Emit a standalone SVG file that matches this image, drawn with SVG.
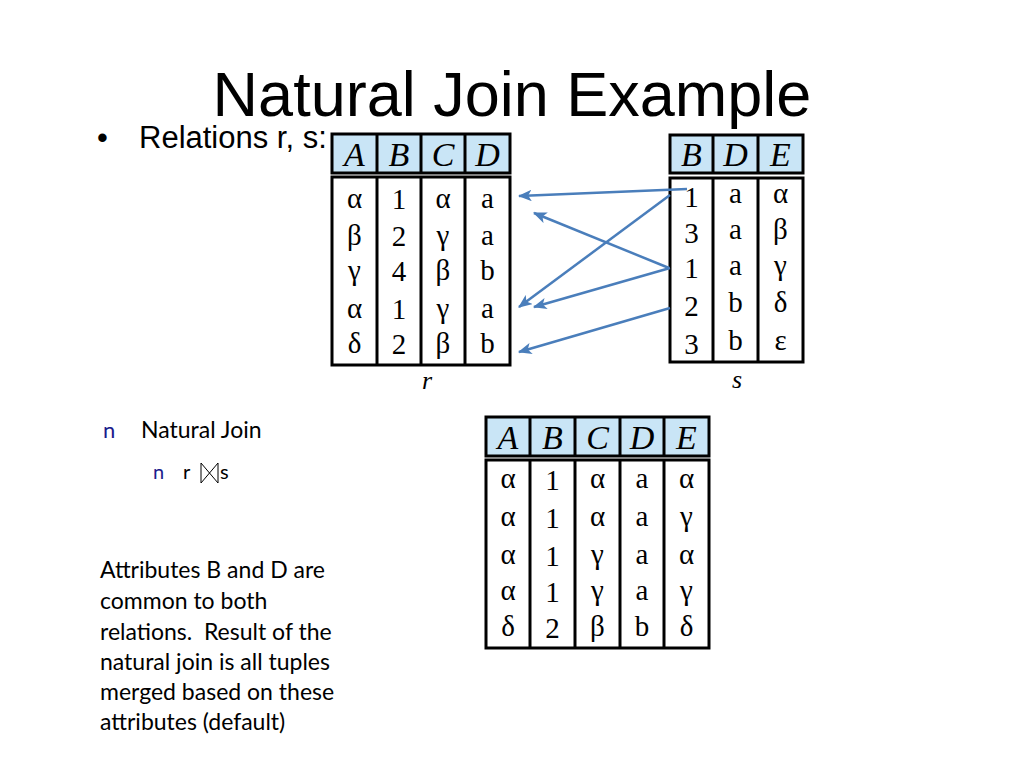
<svg xmlns="http://www.w3.org/2000/svg" width="1024" height="768" viewBox="0 0 1024 768">
<style>
.title{font-family:"Liberation Sans",Arial,sans-serif;font-size:63px;fill:#000}
.bul{font-family:"Liberation Sans",Arial,sans-serif;font-size:31px;fill:#000}
.cal{font-family:Lato,"Open Sans",sans-serif;fill:#000;white-space:pre}
.nb{font-family:Lato,"Open Sans",sans-serif;fill:#1c1c8c}
.hd{fill:#c9e5f6;stroke:#000;stroke-width:3}
.bd{fill:#fff;stroke:#000;stroke-width:3}
.ln{stroke:#000;stroke-width:3}
.ht{font-family:"Liberation Serif","DejaVu Serif",serif;font-style:italic;font-size:34px;text-anchor:middle;fill:#000}
.ct{font-family:"Liberation Serif","DejaVu Serif",serif;font-size:29px;text-anchor:middle;fill:#000}
.lab{font-family:"Liberation Serif","DejaVu Serif",serif;font-style:italic;font-size:26px;text-anchor:middle;fill:#000}
.arr{stroke:#4a7ebb;stroke-width:2.5;fill:none;marker-end:url(#ah)}
</style>
<defs>
<marker id="ah" viewBox="0 0 12 10" refX="11" refY="5" markerWidth="5.5" markerHeight="4.6" orient="auto" markerUnits="strokeWidth">
<path d="M0,0 L12,5 L0,10 L3,5 z" fill="#4a7ebb"/>
</marker>
</defs>
<rect width="1024" height="768" fill="#fff"/>
<text class="title" x="512" y="116" text-anchor="middle">Natural Join Example</text>
<g id="bullet1">
<text class="bul" x="97" y="148">•</text>
<text class="bul" x="139" y="148">Relations r, s:</text>
</g>

<g id="table-r">
<rect class="hd" x="332" y="134" width="178" height="39"/>
<line class="ln" x1="377" y1="134" x2="377" y2="173"/>
<line class="ln" x1="421" y1="134" x2="421" y2="173"/>
<line class="ln" x1="465" y1="134" x2="465" y2="173"/>
<text class="ht" x="354.5" y="166">A</text>
<text class="ht" x="399" y="166">B</text>
<text class="ht" x="443" y="166">C</text>
<text class="ht" x="487.5" y="166">D</text>
<rect class="bd" x="332" y="177" width="178" height="188"/>
<line class="ln" x1="377" y1="177" x2="377" y2="365"/>
<line class="ln" x1="421" y1="177" x2="421" y2="365"/>
<line class="ln" x1="465" y1="177" x2="465" y2="365"/>
<text class="ct" x="354.5" y="208">α</text><text class="ct" x="399" y="209">1</text><text class="ct" x="443" y="208">α</text><text class="ct" x="487.5" y="208">a</text>
<text class="ct" x="354.5" y="245">β</text><text class="ct" x="399" y="246">2</text><text class="ct" x="443" y="245">γ</text><text class="ct" x="487.5" y="245">a</text>
<text class="ct" x="354.5" y="280">γ</text><text class="ct" x="399" y="281">4</text><text class="ct" x="443" y="280">β</text><text class="ct" x="487.5" y="280">b</text>
<text class="ct" x="354.5" y="318">α</text><text class="ct" x="399" y="319">1</text><text class="ct" x="443" y="318">γ</text><text class="ct" x="487.5" y="318">a</text>
<text class="ct" x="354.5" y="353">δ</text><text class="ct" x="399" y="354">2</text><text class="ct" x="443" y="353">β</text><text class="ct" x="487.5" y="353">b</text>
<text class="lab" x="427" y="389">r</text>
</g>

<g id="table-s">
<rect class="hd" x="670" y="135" width="133" height="38"/>
<line class="ln" x1="713" y1="135" x2="713" y2="173"/>
<line class="ln" x1="758" y1="135" x2="758" y2="173"/>
<text class="ht" x="691.5" y="166">B</text>
<text class="ht" x="735.5" y="166">D</text>
<text class="ht" x="780.5" y="166">E</text>
<rect class="bd" x="670" y="178" width="133" height="184"/>
<line class="ln" x1="713" y1="178" x2="713" y2="362"/>
<line class="ln" x1="758" y1="178" x2="758" y2="362"/>
<text class="ct" x="691.5" y="207">1</text><text class="ct" x="735.5" y="203">a</text><text class="ct" x="780.5" y="203">α</text>
<text class="ct" x="691.5" y="243">3</text><text class="ct" x="735.5" y="239">a</text><text class="ct" x="780.5" y="239">β</text>
<text class="ct" x="691.5" y="278">1</text><text class="ct" x="735.5" y="275">a</text><text class="ct" x="780.5" y="275">γ</text>
<text class="ct" x="691.5" y="316">2</text><text class="ct" x="735.5" y="312">b</text><text class="ct" x="780.5" y="312">δ</text>
<text class="ct" x="691.5" y="354">3</text><text class="ct" x="735.5" y="350">b</text><text class="ct" x="780.5" y="350">ε</text>
<text class="lab" x="737" y="388">s</text>
</g>

<g id="connectors">
<line class="arr" x1="687" y1="189" x2="519" y2="196"/>
<line class="arr" x1="669" y1="268" x2="534" y2="213"/>
<line class="arr" x1="670" y1="195" x2="519" y2="307"/>
<line class="arr" x1="670" y1="268" x2="534" y2="307"/>
<line class="arr" x1="670" y1="308" x2="519" y2="352"/>
</g>

<g id="natural-join">
<text class="nb" x="103" y="438" font-size="22">n</text>
<text class="cal" x="141" y="438" font-size="23">Natural Join</text>
<text class="nb" x="153" y="479" font-size="20">n</text>
<text class="cal" x="183" y="479" font-size="20">r</text>
<g stroke="#000" stroke-width="1" fill="none">
<line x1="201" y1="463" x2="201" y2="483"/>
<line x1="218" y1="463" x2="218" y2="483"/>
<line x1="201" y1="463" x2="218" y2="483"/>
<line x1="201" y1="483" x2="218" y2="463"/>
</g>
<text class="cal" x="220" y="479" font-size="20">s</text>
</g>

<g id="table-result">
<rect class="hd" x="486" y="417" width="223" height="39"/>
<line class="ln" x1="530" y1="417" x2="530" y2="456"/>
<line class="ln" x1="575" y1="417" x2="575" y2="456"/>
<line class="ln" x1="620" y1="417" x2="620" y2="456"/>
<line class="ln" x1="664" y1="417" x2="664" y2="456"/>
<text class="ht" x="508" y="449">A</text>
<text class="ht" x="552.5" y="449">B</text>
<text class="ht" x="597.5" y="449">C</text>
<text class="ht" x="642" y="449">D</text>
<text class="ht" x="686.5" y="449">E</text>
<rect class="bd" x="486" y="460" width="223" height="188"/>
<line class="ln" x1="530" y1="460" x2="530" y2="648"/>
<line class="ln" x1="575" y1="460" x2="575" y2="648"/>
<line class="ln" x1="620" y1="460" x2="620" y2="648"/>
<line class="ln" x1="664" y1="460" x2="664" y2="648"/>
<text class="ct" x="508" y="488">α</text><text class="ct" x="552.5" y="490">1</text><text class="ct" x="597.5" y="488">α</text><text class="ct" x="642" y="488">a</text><text class="ct" x="686.5" y="488">α</text>
<text class="ct" x="508" y="526">α</text><text class="ct" x="552.5" y="528">1</text><text class="ct" x="597.5" y="526">α</text><text class="ct" x="642" y="526">a</text><text class="ct" x="686.5" y="526">γ</text>
<text class="ct" x="508" y="564">α</text><text class="ct" x="552.5" y="566">1</text><text class="ct" x="597.5" y="564">γ</text><text class="ct" x="642" y="564">a</text><text class="ct" x="686.5" y="564">α</text>
<text class="ct" x="508" y="600">α</text><text class="ct" x="552.5" y="602">1</text><text class="ct" x="597.5" y="600">γ</text><text class="ct" x="642" y="600">a</text><text class="ct" x="686.5" y="600">γ</text>
<text class="ct" x="508" y="636">δ</text><text class="ct" x="552.5" y="638">2</text><text class="ct" x="597.5" y="636">β</text><text class="ct" x="642" y="636">b</text><text class="ct" x="686.5" y="636">δ</text>
</g>

<g id="note">
<text class="cal" font-size="23">
<tspan x="100" y="578">Attributes B and D are</tspan>
<tspan x="100" y="609">common to both</tspan>
<tspan x="100" y="640">relations.  Result of the</tspan>
<tspan x="100" y="670">natural join is all tuples</tspan>
<tspan x="100" y="700">merged based on these</tspan>
<tspan x="100" y="730">attributes (default)</tspan>
</text>
</g>
</svg>
